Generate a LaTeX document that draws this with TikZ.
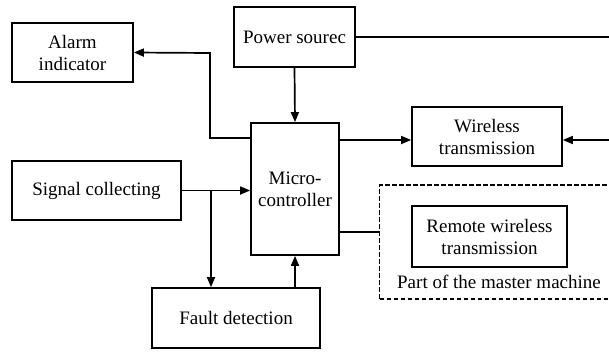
\documentclass[tikz,border=0pt]{standalone}
\usepackage{fontspec}
\setmainfont{Liberation Serif}
\usetikzlibrary{arrows.meta,calc}
\begin{document}
\begin{tikzpicture}[x=1pt,y=-1pt,
  box/.style={draw,line width=1.7pt,inner sep=0pt,align=center,font=\fontsize{19}{22}\selectfont},
  wire/.style={line width=1.7pt},
  arr/.style={wire,-{Triangle[length=10pt,width=8pt]}}]
\clip (0,0) rectangle (609,351);
\fill[white] (0,0) rectangle (609,351);
\node[box,minimum width=121pt,minimum height=59pt] (alarm) at (72.5,52.5) {Alarm\\indicator};
\node[box,minimum width=121pt,minimum height=60pt] (power) at (294.5,37) {Power sourec};
\node[box,minimum width=88pt,minimum height=132pt] (micro) at (295,189) {Micro-\\controller};
\node[box,minimum width=169pt,minimum height=59pt] (signal) at (96.5,190.5) {Signal collecting};
\node[box,minimum width=168pt,minimum height=60pt] (fault) at (236,318) {Fault detection};
\node[box,minimum width=150pt,minimum height=59pt] (wireless) at (487,136.5) {Wireless\\transmission};
\node[draw,line width=1.7pt,dash pattern=on 4.5pt off 2.5pt,minimum width=235pt,minimum height=114pt,inner sep=0pt] (master) at (497,242) {};
\node[box,minimum width=155pt,minimum height=61pt] (remote) at (489.5,236.5) {Remote wireless\\transmission};
\node[font=\fontsize{19}{22}\selectfont,inner sep=0pt] (mlabel) at (499,282) {Part of the master machine};
\coordinate (pr) at (615,37);
\coordinate (rin) at (615,140);
\coordinate (bend) at (210,53);
\coordinate (br) at (211,190.5);
\draw[wire] (power.east) -- (pr);
\draw[arr] (power.south) -- (micro.north);
\draw[arr] (micro.west |- 0,138) -| (bend) -- (alarm.east);
\draw[arr] (signal.east) -- (micro.west |- signal.east);
\draw[arr] (br) -- (br |- fault.north);
\draw[arr] (micro.south |- fault.north) -- (micro.south);
\draw[arr] (micro.east |- 0,140) -- (wireless.west |- 0,140);
\draw[arr] (rin) -- (wireless.east |- rin);
\draw[wire] (micro.east |- 0,232) -- (master.west |- 0,232);
\end{tikzpicture}
\end{document}
